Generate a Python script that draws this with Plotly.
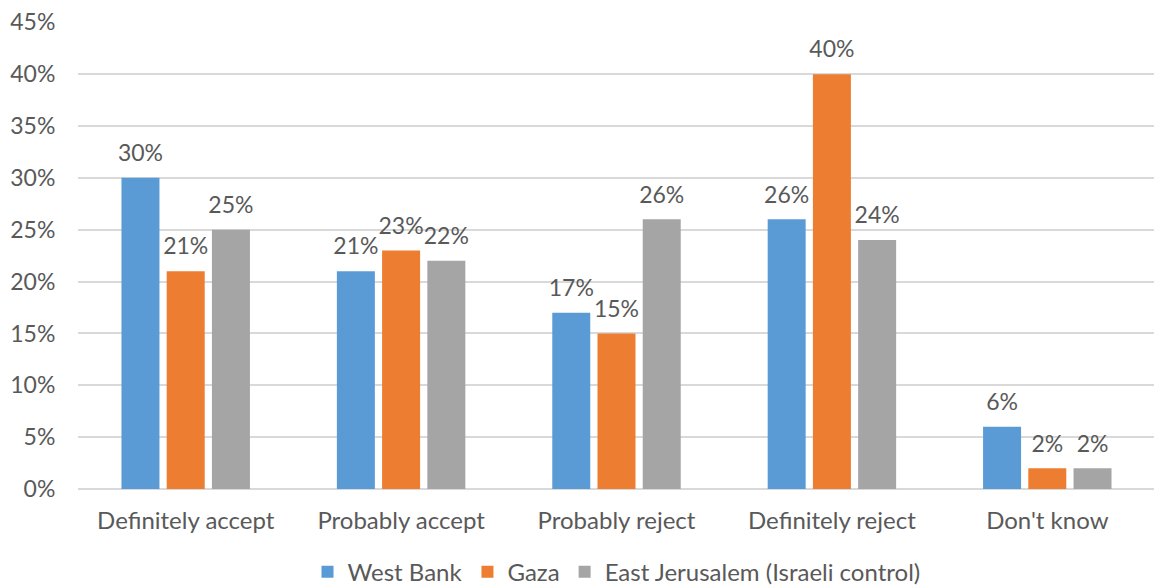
import plotly.graph_objects as go

categories = ["Definitely accept", "Probably accept", "Probably reject", "Definitely reject", "Don't know"]
west_bank = [30, 21, 17, 26, 6]
gaza = [21, 23, 15, 40, 2]
east_jerusalem = [25, 22, 26, 24, 2]
series_names = ["West Bank", "Gaza", "East Jerusalem (Israeli control)"]
colors = ["#5B9BD5", "#ED7D31", "#A5A5A5"]
y_ticks = [0, 5, 10, 15, 20, 25, 30, 35, 40, 45]

FONT = "Lato, Noto Sans, sans-serif"
TXT = "#595959"

fig = go.Figure()
for name, vals, col in zip(series_names, [west_bank, gaza, east_jerusalem], colors):
    fig.add_trace(go.Bar(
        x=categories, y=vals, name=name,
        marker=dict(color=col, line=dict(width=0)),
    ))
for name, vals in zip(series_names, [west_bank, gaza, east_jerusalem]):
    fig.add_trace(go.Scatter(
        x=categories, y=vals, mode="markers+text", showlegend=False,
        marker=dict(size=16, color="rgba(0,0,0,0)"),
        text=[f"{v}%" for v in vals], textposition="top center",
        textfont=dict(size=23, color=TXT, family=FONT),
        cliponaxis=False, hoverinfo="skip",
    ))

fig.update_layout(
    width=1154, height=578,
    margin=dict(l=70, r=7, t=14, b=97, autoexpand=False),
    paper_bgcolor="white", plot_bgcolor="white",
    font=dict(family=FONT, size=22, color=TXT),
    barmode="group", bargap=0.37, bargroupgap=0.16,
    scattermode="group", scattergap=0.37,
    showlegend=True,
    legend=dict(orientation="h", x=0.5, xanchor="center",
                y=-0.178, yanchor="middle",
                font=dict(size=24, color=TXT), itemwidth=30, traceorder="normal"),
)
fig.update_yaxes(range=[0, 45.03], tickmode="array", tickvals=y_ticks,
                 ticktext=[f"{t}%" for t in y_ticks], showgrid=True, automargin=False,
                 ticklabeloverflow="allow",
                 gridcolor="#D9D9D9", gridwidth=2, zeroline=True, zerolinecolor="#D9D9D9",
                 zerolinewidth=2, ticks="outside", ticklen=17, tickcolor="rgba(0,0,0,0)",
                 tickfont=dict(size=23, color=TXT))
fig.update_xaxes(showgrid=False, ticks="outside", ticklen=10, tickcolor="rgba(0,0,0,0)",
                 automargin=False, tickfont=dict(size=24, color=TXT), showline=False)

fig.write_html("out.html")
